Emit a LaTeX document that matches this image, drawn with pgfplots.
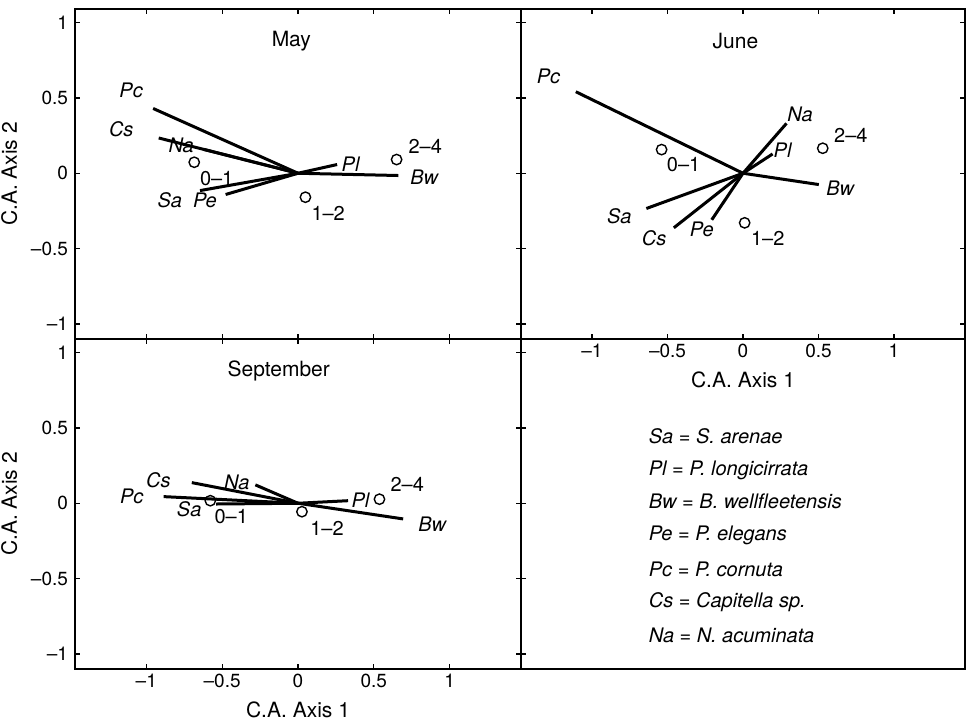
\documentclass[border=0pt]{standalone}
\usepackage{pgfplots}
\pgfplotsset{compat=1.18}
\usepackage{fontspec}
\setmainfont{TeX Gyre Heros}
\begin{document}
\begin{tikzpicture}
\useasboundingbox (0,0) rectangle (483pt,-360pt);
\pgfplotsset{
  panel/.style={
    scale only axis, width=223pt, height=165pt,
    xmin=-1.47, xmax=1.47, ymin=-1.1, ymax=1.09,
    xtick={-1,-0.5,0,0.5,1}, ytick={-1,-0.5,0,0.5,1},
    xticklabels={}, yticklabels={},
    tick align=inside, major tick length=2.5pt,
    xtick pos=both, ytick pos=both,
    axis line style={line width=0.8pt}, every tick/.style={black, line width=0.6pt},
    tick label style={font=\fontsize{9.5}{11}\selectfont},
    xticklabel style={yshift=1pt},
    label style={font=\fontsize{10.5}{12}\selectfont},
    clip=false,
  },
  vec/.style={black, line width=1.5pt, no marks},
  site/.style={only marks, mark=o, mark size=2.6pt, black, mark options={line width=0.7pt}},
}
\newcommand{\lab}[3]{\node[font=\fontsize{10}{11}\selectfont\itshape] at (axis cs:#1,#2) {#3};}
\newcommand{\num}[3]{\node[font=\fontsize{10}{11}\selectfont] at (axis cs:#1,#2) {#3};}
\newcommand{\ttl}[3]{\node[font=\fontsize{10.5}{12}\selectfont] at (axis cs:#1,#2) {#3};}

% ---------------- May ----------------
\begin{axis}[panel, at={(37.5pt,-4.5pt)}, anchor=north west,
  yticklabels={\textendash1,\textendash0.5,0,0.5,1}, ylabel={C.A. Axis 2}]
\addplot[vec] coordinates {(0,0) (-0.955,0.43)};   % Pc
\addplot[vec] coordinates {(0,0) (-0.918,0.234)};  % Cs
\addplot[vec] coordinates {(0,0) (-0.62,0.158)};   % Na
\addplot[vec] coordinates {(0,0) (-0.646,-0.115)}; % Sa
\addplot[vec] coordinates {(0,0) (-0.477,-0.141)}; % Pe
\addplot[vec] coordinates {(0,0) (0.258,0.058)};   % Pl
\addplot[vec] coordinates {(0,0) (0.662,-0.015)};  % Bw
\addplot[site] coordinates {(-0.684,0.073) (0.049,-0.159) (0.65,0.091)};
\ttl{-0.044}{0.879}{May}
\lab{-1.10}{0.55}{Pc}
\lab{-1.165}{0.294}{Cs}
\lab{-0.77}{0.183}{Na}
\lab{-0.845}{-0.176}{Sa}
\lab{-0.613}{-0.181}{Pe}
\lab{0.347}{0.062}{Pl}
\lab{0.832}{-0.026}{Bw}
\num{-0.536}{-0.037}{0\textendash1}
\num{0.199}{-0.269}{1\textendash2}
\num{0.839}{0.177}{2\textendash4}
\end{axis}

% ---------------- June ----------------
\begin{axis}[panel, at={(260.5pt,-4.5pt)}, anchor=north west, width=222pt,
  xticklabels={\textendash1,\textendash0.5,0,0.5,1}, xlabel={C.A. Axis 1}]
\addplot[vec] coordinates {(0,0) (-1.107,0.541)};  % Pc
\addplot[vec] coordinates {(0,0) (0.288,0.331)};   % Na
\addplot[vec] coordinates {(0,0) (0.196,0.128)};   % Pl
\addplot[vec] coordinates {(0,0) (0.502,-0.075)};  % Bw
\addplot[vec] coordinates {(0,0) (-0.64,-0.234)};  % Sa
\addplot[vec] coordinates {(0,0) (-0.458,-0.362)}; % Cs
\addplot[vec] coordinates {(0,0) (-0.207,-0.309)}; % Pe
\addplot[site] coordinates {(-0.539,0.157) (0.011,-0.329) (0.528,0.166)};
\ttl{-0.05}{0.879}{June}
\lab{-1.288}{0.64}{Pc}
\lab{0.378}{0.393}{Na}
\lab{0.262}{0.15}{Pl}
\lab{0.644}{-0.097}{Bw}
\lab{-0.819}{-0.287}{Sa}
\lab{-0.589}{-0.428}{Cs}
\lab{-0.273}{-0.375}{Pe}
\num{-0.393}{0.058}{0\textendash1}
\num{0.164}{-0.434}{1\textendash2}
\num{0.714}{0.25}{2\textendash4}
\end{axis}

% ---------------- September ----------------
\begin{axis}[panel, at={(37.5pt,-169.5pt)}, anchor=north west,
  xticklabels={\textendash1,\textendash0.5,0,0.5,1},
  yticklabels={\textendash1,\textendash0.5,0,0.5,1},
  xlabel={C.A. Axis 1}, ylabel={C.A. Axis 2}]
\addplot[vec] coordinates {(0,0) (-0.886,0.044)};  % Pc
\addplot[vec] coordinates {(0,0) (-0.70,0.137)};   % Cs
\addplot[vec] coordinates {(0,0) (-0.281,0.122)};  % Na
\addplot[vec] coordinates {(0,0) (-0.54,-0.005)};  % Sa
\addplot[vec] coordinates {(0,0) (0.33,0.017)};    % Pl
\addplot[vec] coordinates {(0,0) (0.693,-0.104)};  % Bw
\addplot[site] coordinates {(-0.578,0.017) (0.026,-0.056) (0.537,0.027)};
\ttl{-0.127}{0.876}{September}
\lab{-1.096}{0.044}{Pc}
\lab{-0.92}{0.155}{Cs}
\lab{-0.403}{0.137}{Na}
\lab{-0.717}{-0.038}{Sa}
\lab{0.412}{0.022}{Pl}
\lab{0.885}{-0.138}{Bw}
\num{-0.44}{-0.089}{0\textendash1}
\num{0.191}{-0.166}{1\textendash2}
\num{0.72}{0.122}{2\textendash4}
\end{axis}

% ---------------- Key ----------------
\begin{axis}[panel, at={(260.5pt,-169.5pt)}, anchor=north west, width=222pt,
  xtick=\empty, ytick pos=left]
\pgfplotsextra{
\foreach \yy/\tx in {0.446/{Sa = S. arenae}, 0.221/{Pl = P. longicirrata},
  0.015/{Bw = B. wellfleetensis}, -0.211/{Pe = P. elegans},
  -0.436/{Pc = P. cornuta}, -0.655/{Cs = Capitella sp.}, -0.874/{Na = N. acuminata}}{
  \node[anchor=west, font=\fontsize{10}{12}\selectfont\itshape] at (axis cs:-0.67,\yy) {\tx};
}}
\end{axis}
\end{tikzpicture}
\end{document}
